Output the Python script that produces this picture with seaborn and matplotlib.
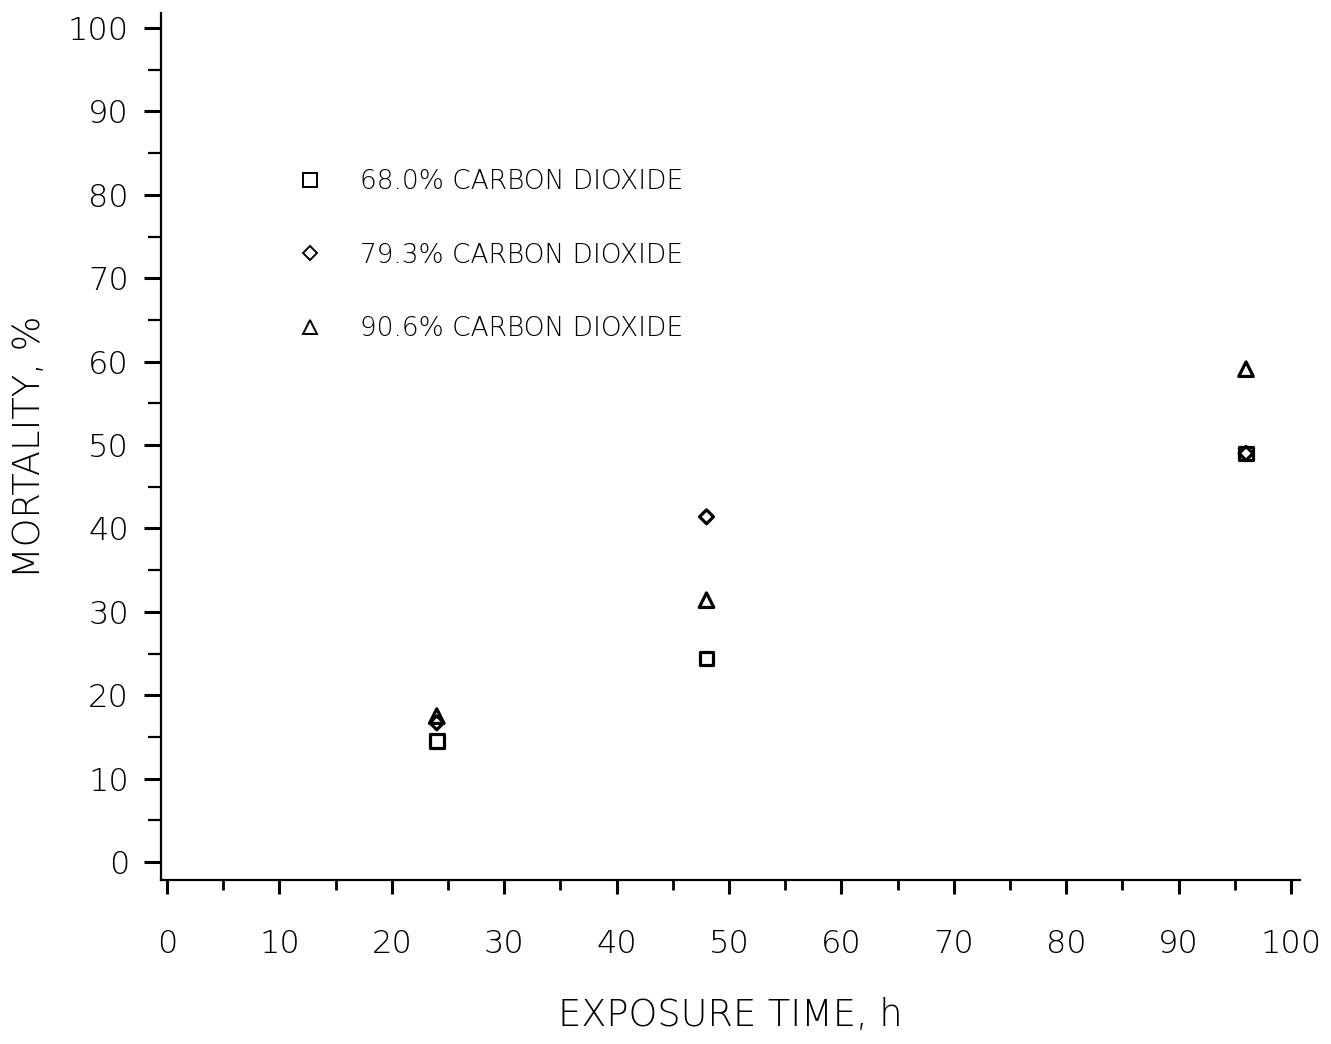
import matplotlib
matplotlib.use("Agg")
import matplotlib.pyplot as plt
from matplotlib.lines import Line2D
from matplotlib.ticker import MultipleLocator
import seaborn as sns
import pandas as pd

# Exposure time (h) and mortality (%) for each CO2 concentration
exposure_h = [24, 48, 96]
mort_68 = [14.5, 24.4, 49.0]
mort_79 = [16.7, 41.4, 49.0]
mort_91 = [17.5, 31.4, 59.1]
series_labels = ["68.0% CARBON DIOXIDE", "79.3% CARBON DIOXIDE", "90.6% CARBON DIOXIDE"]

df = pd.concat([
    pd.DataFrame({"time": exposure_h, "mortality": vals, "series": lab})
    for vals, lab in zip([mort_68, mort_79, mort_91], series_labels)
])

sns.set_theme(style="ticks")
plt.rcParams["font.family"] = ["DejaVu Sans"]
plt.rcParams["text.color"] = "black"
plt.rcParams["axes.labelcolor"] = "black"

fig = plt.figure(figsize=(13.31, 10.44), dpi=100)
ax = fig.add_axes([0.121, 0.1571, 0.8557, 0.8304])

marker_map = {series_labels[0]: "s", series_labels[1]: "D", series_labels[2]: "^"}
size_map = {series_labels[0]: 95, series_labels[1]: 50, series_labels[2]: 110}

for lab in series_labels:
    sub = df[df["series"] == lab]
    sns.scatterplot(data=sub, x="time", y="mortality", marker=marker_map[lab],
                    s=size_map[lab], facecolor="none", edgecolor="black",
                    linewidth=2.3, ax=ax, legend=False, zorder=3)

ax.set_xlim(-0.53, 100.8)
ax.set_ylim(-2.15, 101.8)
ax.xaxis.set_major_locator(MultipleLocator(10))
ax.xaxis.set_minor_locator(MultipleLocator(5))
ax.yaxis.set_major_locator(MultipleLocator(10))
ax.yaxis.set_minor_locator(MultipleLocator(5))

for side in ["top", "right"]:
    ax.spines[side].set_visible(False)
for side in ["left", "bottom"]:
    ax.spines[side].set_linewidth(1.6)
    ax.spines[side].set_color("black")

ax.tick_params(axis="y", which="major", length=12, width=2.2, pad=11,
               labelsize=23, colors="black")
ax.tick_params(axis="y", which="minor", length=9.5, width=1.6, colors="black")
ax.tick_params(axis="x", which="major", length=10, width=2.2, pad=25,
               labelsize=23, colors="black")
ax.tick_params(axis="x", which="minor", length=7, width=2.0, colors="black")
for lbl in ax.get_xticklabels() + ax.get_yticklabels():
    lbl.set_fontweight("light")

ax.set_xlabel("EXPOSURE TIME, h", fontsize=26.5, labelpad=28, fontweight="light",
              color="black")
ax.set_ylabel("MORTALITY, %", fontsize=26.5, labelpad=15, fontweight="light",
              color="black")
ax.grid(False)

handles = [
    Line2D([], [], linestyle="none", marker="s", markersize=10,
           markerfacecolor="none", markeredgecolor="black", markeredgewidth=1.4),
    Line2D([], [], linestyle="none", marker="D", markersize=7,
           markerfacecolor="none", markeredgecolor="black", markeredgewidth=1.4),
    Line2D([], [], linestyle="none", marker="^", markersize=10,
           markerfacecolor="none", markeredgecolor="black", markeredgewidth=1.4),
]
leg = ax.legend(handles, series_labels, loc="upper left",
                bbox_to_anchor=(0.098, 0.847), frameon=False, fontsize=19,
                labelspacing=1.83, handletextpad=1.4, handlelength=1.0)
for t in leg.get_texts():
    t.set_fontweight("light")
    t.set_color("black")

fig.savefig("out.png", dpi=100, facecolor="white")
